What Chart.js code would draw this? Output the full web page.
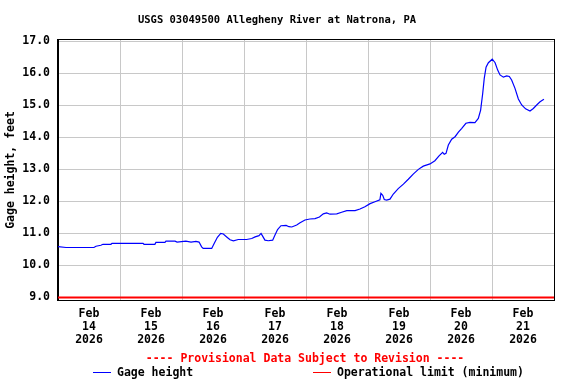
<!DOCTYPE html>
<html>
<head>
<meta charset="utf-8">
<script src="https://cdn.jsdelivr.net/npm/chart.js@4"></script>
<style>
  html, body { margin: 0; padding: 0; background: #fff; }
  #wrap { width: 576px; height: 384px; }
</style>
</head>
<body>
<div id="wrap"><canvas id="gageChart" width="576" height="384"></canvas></div>
<script>
// hours since Feb 14 2026 00:00
const hours = [
  0, 3.1, 13.9, 14.7, 16.6, 17.4, 20.5, 20.9, 32.9, 33.3, 37.5, 37.9, 41.4, 41.8, 45.3, 46.1,
  49.5, 51.5, 53.4, 54.6, 55.6, 56.2, 59.5, 60.5, 61.7, 63.0, 64.0, 65.3, 66.6, 67.9, 69.8,
  73.0, 75.0, 76.3, 77.8, 78.6, 79.1, 80.1, 81.4, 83.1, 84.0, 85.0, 86.3, 88.3, 89.4, 90.5,
  92.4, 93.7, 95.6, 97.5, 99.5, 101.2, 102.7, 104.0, 105.3, 107.9, 109.8, 111.8, 115.0,
  116.9, 118.8, 120.8, 122.7, 124.6, 125.0, 125.7, 126.3, 127.2, 128.5, 129.8, 131.7,
  133.7, 135.6, 137.5, 139.5, 141.4, 144.0, 145.9, 147.5, 148.9, 149.5, 150.2, 151.1,
  152.4, 153.7, 155.0, 156.3, 157.9, 159.5, 161.4, 162.7, 163.6, 164.4, 165.0, 165.7,
  166.6, 168.1, 169.2, 170.2, 171.1, 172.4, 173.7, 174.7, 175.6, 176.9, 178.2, 179.5,
  181.0, 182.7, 184.0, 185.3, 186.6, 188.1
];
const gageHeight = [
  10.59, 10.56, 10.56, 10.60, 10.63, 10.66, 10.66, 10.69, 10.69, 10.66, 10.66, 10.72, 10.72, 10.76, 10.76, 10.73,
  10.76, 10.73, 10.75, 10.73, 10.58, 10.53, 10.53, 10.69, 10.88, 11.00, 10.98, 10.89, 10.80, 10.77, 10.81,
  10.81, 10.84, 10.89, 10.93, 11.00, 10.93, 10.79, 10.77, 10.79, 10.95, 11.12, 11.24, 11.25, 11.21, 11.20,
  11.26, 11.33, 11.42, 11.45, 11.46, 11.51, 11.61, 11.64, 11.60, 11.61, 11.66, 11.71, 11.71,
  11.76, 11.83, 11.93, 11.99, 12.05, 12.25, 12.19, 12.06, 12.04, 12.07, 12.23, 12.40,
  12.54, 12.69, 12.85, 13.00, 13.10, 13.17, 13.27, 13.42, 13.53, 13.47, 13.50, 13.76,
  13.94, 14.02, 14.16, 14.28, 14.44, 14.47, 14.46, 14.59, 14.85, 15.37, 15.84, 16.19,
  16.33, 16.44, 16.33, 16.10, 15.95, 15.88, 15.92, 15.90, 15.79, 15.53, 15.20, 15.01,
  14.89, 14.82, 14.90, 15.01, 15.11, 15.19
];
const operationalLimit = 9.0;
const dayLabels = ["14", "15", "16", "17", "18", "19", "20", "21"];
const yTicks = [9, 10, 11, 12, 13, 14, 15, 16, 17];

const FONT = "'DejaVu Sans Mono', 'Liberation Mono', monospace";
const GRID = "#c8c8c8";

const gageData = hours.map((h, i) => ({ x: h, y: gageHeight[i] }));
const limitData = [{ x: 0, y: operationalLimit }, { x: dayLabels.length * 24, y: operationalLimit }];

const extras = {
  id: "extras",
  afterDraw(chart) {
    const { ctx, chartArea } = chart;
    ctx.save();
    ctx.strokeStyle = "#000";
    ctx.lineWidth = 1;
    ctx.strokeRect(chartArea.left - 0.5, chartArea.top - 0.5,
      chartArea.right - chartArea.left + 1, chartArea.bottom - chartArea.top + 1);

    ctx.font = "bold 11.5px " + FONT;
    ctx.textBaseline = "middle";
    ctx.fillStyle = "#ff0000";
    ctx.textAlign = "center";
    ctx.fillText("---- Provisional Data Subject to Revision ----", 305, 359);

    ctx.textAlign = "left";
    ctx.lineWidth = 1;
    ctx.strokeStyle = "#0000ff";
    ctx.beginPath();
    ctx.moveTo(93, 372.5);
    ctx.lineTo(111, 372.5);
    ctx.stroke();
    ctx.fillStyle = "#000";
    ctx.fillText("Gage height", 117, 373);

    ctx.strokeStyle = "#ff0000";
    ctx.beginPath();
    ctx.moveTo(313, 372.5);
    ctx.lineTo(331, 372.5);
    ctx.stroke();
    ctx.fillText("Operational limit (minimum)", 337, 373);
    ctx.restore();
  }
};

new Chart(document.getElementById("gageChart"), {
  type: "line",
  data: {
    datasets: [
      {
        label: "Operational limit (minimum)",
        data: limitData,
        borderColor: "#ff0000",
        borderWidth: 2,
        pointRadius: 0
      },
      {
        label: "Gage height",
        data: gageData,
        borderColor: "#0000ff",
        borderWidth: 1.2,
        pointRadius: 0,
        tension: 0
      }
    ]
  },
  options: {
    responsive: false,
    animation: false,
    layout: { padding: { left: 0, right: 22, top: 0, bottom: 0 } },
    plugins: {
      legend: { display: false },
      tooltip: { enabled: false },
      title: {
        display: true,
        text: "USGS 03049500 Allegheny River at Natrona, PA",
        color: "#000",
        font: { family: FONT, size: 10.5, weight: "bold" },
        padding: { top: 14.4, bottom: 13 }
      }
    },
    scales: {
      x: {
        type: "linear",
        min: 0,
        max: dayLabels.length * 24,
        afterBuildTicks(scale) {
          const t = [];
          for (let v = 0; v <= dayLabels.length * 24; v += 12) t.push({ value: v });
          scale.ticks = t;
        },
        afterFit(scale) { scale.height = 84; },
        grid: {
          drawTicks: false,
          color: (c) => (c.tick && c.tick.value % 24 === 0 ? GRID : "rgba(0,0,0,0)")
        },
        border: { color: "#000" },
        ticks: {
          autoSkip: false,
          maxRotation: 0,
          padding: 7.5,
          color: "#000",
          font: { family: FONT, size: 11.5, weight: "bold", lineHeight: 13 / 11.5 },
          callback: (v) => {
            if (v % 24 !== 12) return "";
            return ["Feb", dayLabels[Math.floor(v / 24)], "2026"];
          }
        }
      },
      y: {
        min: 8.92,
        max: 17.04,
        afterBuildTicks(scale) {
          scale.ticks = yTicks.map((v) => ({ value: v }));
        },
        afterFit(scale) { scale.width = 58; },
        grid: { drawTicks: false, color: GRID },
        border: { color: "#000" },
        ticks: {
          padding: 8,
          color: "#000",
          font: { family: FONT, size: 11.5, weight: "bold" },
          callback: (v) => v.toFixed(1)
        },
        title: {
          display: true,
          text: "Gage height, feet",
          color: "#000",
          font: { family: FONT, size: 11.5, weight: "bold" },
          padding: { top: 4, bottom: 0 }
        }
      }
    }
  },
  plugins: [extras]
});
</script>
</body>
</html>
